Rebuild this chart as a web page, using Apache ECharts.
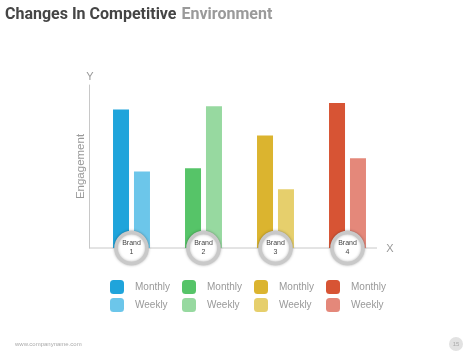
<!DOCTYPE html>
<html>
<head>
<meta charset="utf-8">
<script src="https://cdn.jsdelivr.net/npm/echarts@6/dist/echarts.min.js"></script>
<style>html,body{margin:0;padding:0;background:#fff;}#c{width:474px;height:355px;}</style>
</head>
<body>
<div id="c"></div>
<script>
const brands = ['Brand 1', 'Brand 2', 'Brand 3', 'Brand 4'];
const brandLabels = ['Brand\n1', 'Brand\n2', 'Brand\n3', 'Brand\n4'];
const monthly = [85, 49, 69, 89];
const weekly = [47, 87, 36, 55];
const monthlyColors = ['#1fa4db', '#56c468', '#dbb42f', '#d75434'];
const weeklyColors = ['#6cc6ea', '#97d9a0', '#e6cf6c', '#e4887a'];
const yMax = 100;

const chart = echarts.init(document.getElementById('c'), null, {renderer: 'canvas'});

const series = [];
brands.forEach((b, i) => {
  series.push({
    name: b + ' Monthly', type: 'bar', stack: 'm', barWidth: 16, barGap: '31%',
    color: monthlyColors[i],
    data: brands.map((_, j) => j === i ? monthly[i] : '-')
  });
});
brands.forEach((b, i) => {
  series.push({
    name: b + ' Weekly', type: 'bar', stack: 'w', barWidth: 16, barGap: '31%',
    color: weeklyColors[i],
    data: brands.map((_, j) => j === i ? weekly[i] : '-')
  });
});
series.push({
  type: 'scatter', name: 'badge', clip: false, z: 10,
  symbolSize: 31,
  data: brandLabels.map(() => 0),
  itemStyle: {color: '#fff', borderColor: '#c9c9c9', borderWidth: 3.5, shadowBlur: 3, shadowColor: 'rgba(0,0,0,0.3)', opacity: 1},
  label: {show: true, position: 'inside', formatter: p => brandLabels[p.dataIndex], fontSize: 7, lineHeight: 9, color: '#444', fontFamily: 'Liberation Sans'},
  emphasis: {disabled: true}
});

const legends = brands.map((b, i) => ({
  orient: 'vertical', left: 110 + i * 72, top: 280, padding: 0,
  itemWidth: 14, itemHeight: 14, itemGap: 4, icon: 'roundRect',
  selectedMode: false,
  data: [b + ' Monthly', b + ' Weekly'],
  formatter: n => n.replace(/^Brand \d /, ''),
  textStyle: {color: '#999', fontSize: 10, fontFamily: 'Liberation Sans', padding: [0, 0, 0, 6]}
}));

chart.setOption({
  animation: false,
  title: {
    left: 5, top: 6, padding: 0,
    text: '{a|Changes In Competitive} {b|Environment}',
    textStyle: {rich: {
      a: {fontFamily: 'Roboto', fontWeight: 'bold', fontSize: 16, color: '#454545'},
      b: {fontFamily: 'Roboto', fontWeight: 'bold', fontSize: 16, color: '#9a9a9a'}
    }}
  },
  legend: legends,
  grid: {left: 95.5, width: 288, top: 85, height: 163},
  xAxis: {
    type: 'category', data: brands,
    axisLine: {show: false}, axisTick: {show: false}, axisLabel: {show: false}
  },
  yAxis: {
    type: 'value', min: 0, max: yMax, offset: 6.5,
    splitLine: {show: false}, axisTick: {show: false}, axisLabel: {show: false},
    axisLine: {show: true, lineStyle: {color: '#c8c8c8', width: 1}},
    name: 'Engagement', nameLocation: 'middle', nameRotate: 90, nameGap: 2,
    nameTextStyle: {color: '#999', fontSize: 11.5, fontFamily: 'Liberation Sans'}
  },
  series: series,
  graphic: [
    {type: 'line', shape: {x1: 89, y1: 248, x2: 377, y2: 248}, style: {stroke: '#c8c8c8', lineWidth: 1}, z: 1},
    {type: 'text', x: 90, y: 77, style: {text: 'Y', fontSize: 11, fill: '#999', align: 'center', verticalAlign: 'middle', fontFamily: 'Liberation Sans'}},
    {type: 'text', x: 390, y: 249, style: {text: 'X', fontSize: 11, fill: '#999', align: 'center', verticalAlign: 'middle', fontFamily: 'Liberation Sans'}},
    {type: 'text', x: 15, y: 344, style: {text: 'www.companyname.com', fontSize: 6, fill: '#aaa', verticalAlign: 'middle', fontFamily: 'Liberation Sans'}},
    {type: 'circle', shape: {cx: 456, cy: 344, r: 7}, style: {fill: '#e2e2e2'}},
    {type: 'text', x: 456, y: 344, style: {text: '15', fontSize: 6, fill: '#aaa', align: 'center', verticalAlign: 'middle', fontFamily: 'Liberation Sans'}}
  ]
});
</script>
</body>
</html>
